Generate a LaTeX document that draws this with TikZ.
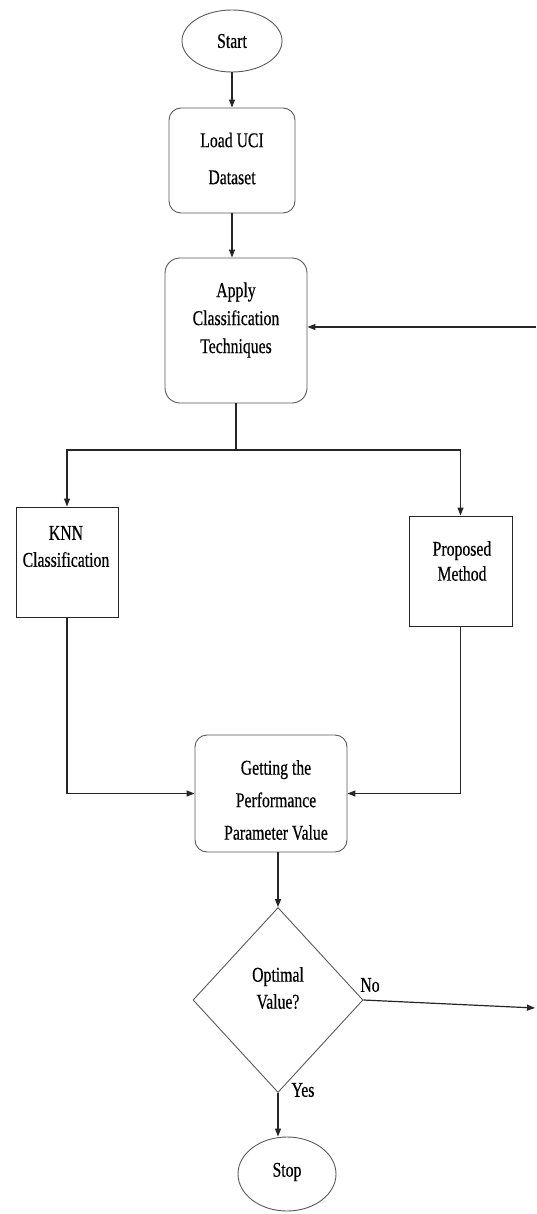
\documentclass[tikz,border=0pt]{standalone}
\usepackage{fontspec}
\setmainfont{Liberation Serif}[FakeStretch=0.75,FakeBold=0.4]
\usetikzlibrary{shapes.geometric,arrows.meta}
\tikzset{
  line/.style={line width=1.2pt, draw=black!85},
  arr/.style={line, -{Triangle[length=8pt,width=6pt]}},
  box/.style={draw=black!65, line width=0.9pt, inner sep=0pt},
  txt/.style={font=\fontsize{21}{27}\selectfont, align=center, inner sep=0pt, text=black},
}
\begin{document}
\begin{tikzpicture}[x=1pt,y=-1pt]
\useasboundingbox (0,0) rectangle (536,1214);
% shapes
\node[box, ellipse, minimum width=100pt, minimum height=62pt, txt] (start) at (232,41) {Start};
\node[box, rounded corners=12pt, minimum width=126pt, minimum height=105pt] (load) at (232,160.5) {};
\node[txt] (loadT) at (232,158.5) {Load UCI\\[10pt]Dataset};
\node[box, rounded corners=15pt, minimum width=142pt, minimum height=145pt] (apply) at (236,330.5) {};
\node[txt, font=\fontsize{21}{28}\selectfont] (applyT) at (236,320) {Apply\\Classification\\Techniques};
\node[box, draw=black!85, minimum width=102pt, minimum height=110pt] (knn) at (67,562) {};
\node[txt] (knnT) at (66,546.5) {KNN\\Classification};
\node[box, draw=black!85, minimum width=103pt, minimum height=110pt] (prop) at (460.5,571) {};
\node[txt, font=\fontsize{21}{25}\selectfont] (propT) at (462,561) {Proposed\\Method};
\node[box, rounded corners=12pt, minimum width=152pt, minimum height=117pt] (get) at (271,793.5) {};
\node[txt, font=\fontsize{21}{32.5}\selectfont] (getT) at (276,800) {Getting the\\Performance\\Parameter Value};
\node[box, diamond, minimum width=170pt, minimum height=185pt] (dia) at (278,1000) {};
\node[txt] (diaT) at (278,988) {Optimal\\Value?};
\node[box, ellipse, minimum width=98pt, minimum height=74pt] (stop) at (287,1174) {};
\node[txt] (stopT) at (287,1172) {Stop};
% labels
\node[txt] (noL) at (370,985) {No};
\node[txt] (yesL) at (303,1090) {Yes};
% connectors
\coordinate (split) at (236,450);
\coordinate (fb) at (536,327);
\coordinate (noEnd) at (535,1008);
\draw[arr] (start) -- (load);
\draw[arr] (load.south) -- (load.south |- apply.north);
\draw[line] (apply.south) -- (split);
\draw[arr] (split) -| (knn.north);
\draw[arr] (split) -| (prop.north);
\draw[arr] (knn.south) |- (get.west);
\draw[arr] (prop.south) |- (get.east);
\draw[arr] (dia.north |- get.south) -- (dia.north);
\draw[arr] (dia.east) -- (noEnd);
\draw[arr] (dia.south) -- (stop.north -| dia.south);
\draw[arr] (fb) -- (apply.east |- fb);
\end{tikzpicture}
\end{document}
